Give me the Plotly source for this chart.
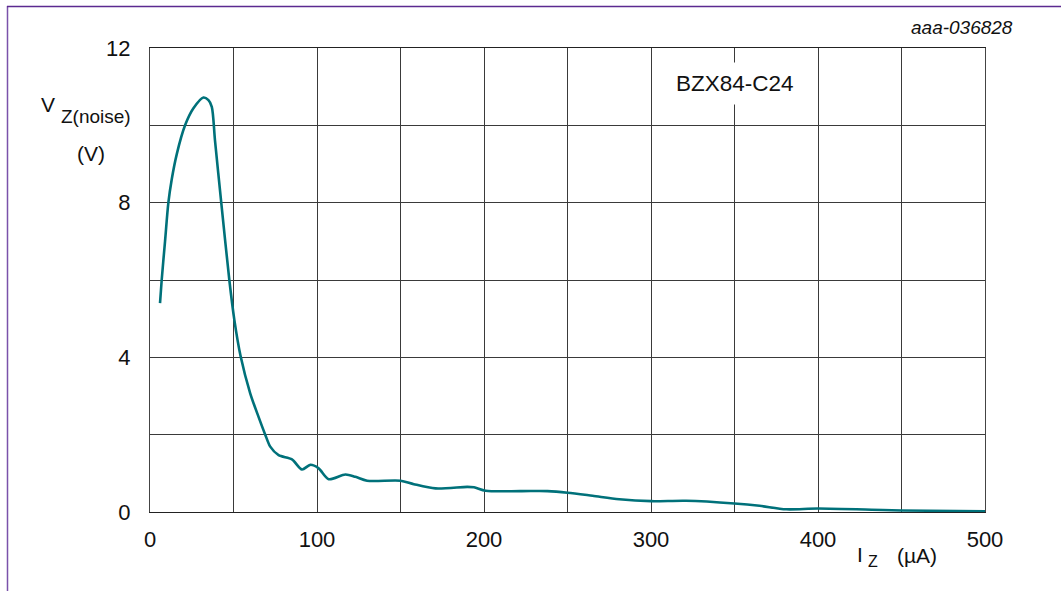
import plotly.graph_objects as go

# Data
iz_uA = [6, 7, 9, 11, 13, 16, 21, 26, 32, 35, 37, 38.9, 42.5, 47.5, 50.5, 54.3, 60, 65, 69, 72, 77, 85,
         91, 96, 101, 107, 117, 123, 130, 150, 158, 171, 190, 194, 201, 222, 238, 250, 265,
         281, 300, 321, 350, 365, 381, 400, 450, 500]
vz_noise = [5.4, 6.0, 7.0, 8.0, 8.6, 9.25, 10.0, 10.44, 10.72, 10.65, 10.48, 9.62, 8.07, 6.0, 4.97,
            4.02, 3.07, 2.46, 2.0, 1.69, 1.47, 1.36, 1.10, 1.22, 1.13, 0.85, 0.97, 0.91, 0.81,
            0.81, 0.72, 0.61, 0.65, 0.64, 0.55, 0.54, 0.54, 0.50, 0.42, 0.33, 0.28, 0.29, 0.22,
            0.16, 0.07, 0.09, 0.04, 0.02]
x_ticks = [0, 100, 200, 300, 400, 500]
y_ticks = [0, 4, 8, 12]

W, H = 1061, 591
L, R, T, B = 150, 76, 48, 79
pw, ph = W - L - R, H - T - B

def px(xp):
    return (xp - L) / pw

def py(yp):
    return (H - B - yp) / ph

FONT = "Liberation Sans, Arial, sans-serif"

fig = go.Figure()
fig.add_trace(go.Scatter(
    x=iz_uA, y=vz_noise, mode="lines",
    line=dict(color="#00717A", width=2.6, shape="spline", smoothing=0.8),
    hoverinfo="skip", showlegend=False,
))

grid = "#3a3a3a"
fig.update_xaxes(
    range=[0, 500], tickvals=x_ticks, ticktext=[str(v) for v in x_ticks],
    showgrid=True, gridcolor=grid, gridwidth=1,
    minor=dict(dtick=50, showgrid=True, gridcolor=grid, gridwidth=1),
    showline=True, linecolor="#222", linewidth=1, mirror=True,
    ticks="", ticklabelstandoff=8, zeroline=False,
    tickfont=dict(family=FONT, size=22, color="#111"),
)
fig.update_yaxes(
    range=[0, 12], tickvals=y_ticks, ticktext=[str(v) for v in y_ticks],
    showgrid=True, gridcolor=grid, gridwidth=1,
    minor=dict(dtick=2, showgrid=True, gridcolor=grid, gridwidth=1),
    showline=True, linecolor="#444", linewidth=1, mirror=True,
    ticks="", ticklabelstandoff=14, zeroline=False,
    tickfont=dict(family=FONT, size=22, color="#111"),
)

anns = [
    dict(text="V", x=px(47.5), y=py(105), size=21),
    dict(text="Z(noise)", x=px(96), y=py(116), size=19),
    dict(text="(V)", x=px(90.5), y=py(153), size=21),
    dict(text="I", x=px(860), y=py(554), size=21),
    dict(text="Z", x=px(872.5), y=py(561), size=16),
    dict(text="(µA)", x=px(917), y=py(555), size=21),
    dict(text="<i>aaa-036828</i>", x=px(962), y=py(27.5), size=19),
]
for a in anns:
    fig.add_annotation(
        text=a["text"], x=a["x"], y=a["y"], xref="paper", yref="paper",
        xanchor="center", yanchor="middle", showarrow=False,
        font=dict(family=FONT, size=a["size"], color="#111"),
    )

fig.add_annotation(
    text="BZX84-C24", x=px(735), y=py(83.5), xref="paper", yref="paper",
    xanchor="center", yanchor="middle", showarrow=False,
    font=dict(family=FONT, size=22.5, color="#111"),
    bgcolor="white", borderpad=8,
)

border = "#7a52aa"
fig.add_shape(type="line", xref="paper", yref="paper",
              x0=px(7.5), x1=px(7.5), y0=py(6), y1=py(H + 5),
              line=dict(color=border, width=1.5))
fig.add_shape(type="line", xref="paper", yref="paper",
              x0=px(7), x1=px(1061), y0=py(6.5), y1=py(6.5),
              line=dict(color="#5b2a90", width=1.5))

fig.update_layout(
    width=W, height=H,
    margin=dict(l=L, r=R, t=T, b=B),
    paper_bgcolor="white", plot_bgcolor="white",
    font=dict(family=FONT),
)

fig.write_html("out.html")
